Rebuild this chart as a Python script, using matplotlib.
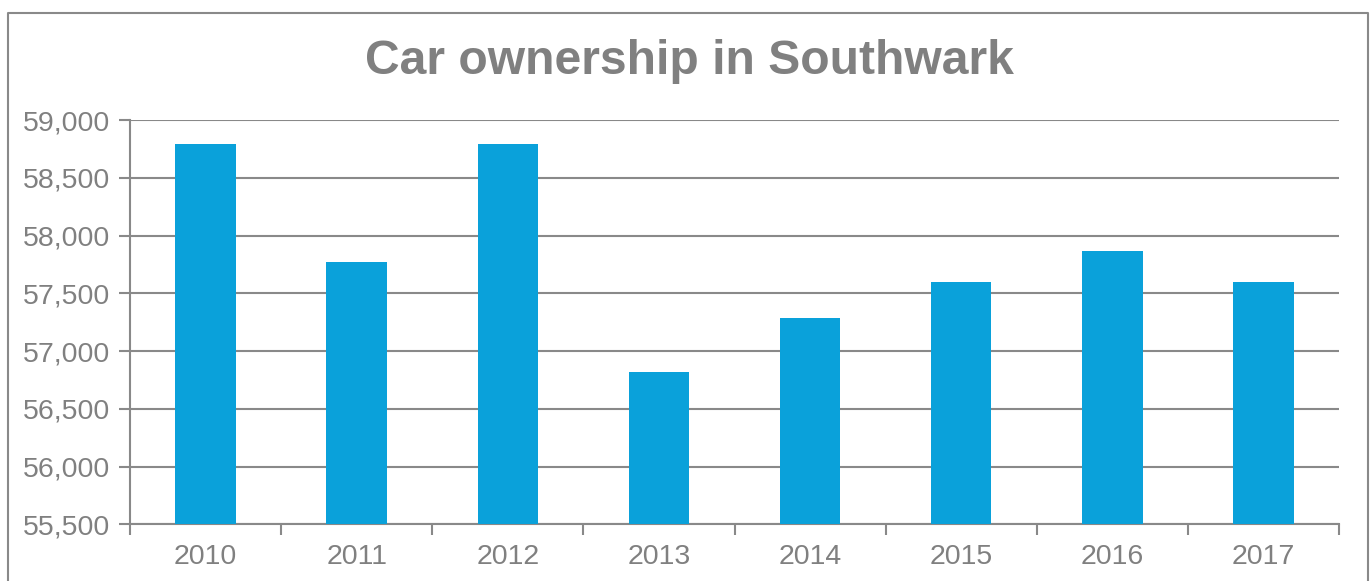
import matplotlib
matplotlib.use('Agg')
import matplotlib.pyplot as plt
from matplotlib.lines import Line2D
from matplotlib.ticker import FuncFormatter

years = ['2010', '2011', '2012', '2013', '2014', '2015', '2016', '2017']
cars = [58795, 57775, 58795, 56818, 57284, 57598, 57862, 57598]

grey = '#898989'
text_grey = '#808080'
bar_colour = '#0AA1DA'

plt.rcParams['font.family'] = ['Liberation Sans', 'DejaVu Sans']

fig = plt.figure(figsize=(13.7, 5.81), dpi=100)
ax = fig.add_axes([130 / 1370, 1 - 524.3 / 581, (1339 - 130) / 1370, (524.3 - 120) / 581])

x = range(len(years))
ax.bar(x, cars, width=0.4, color=bar_colour, zorder=3)

ax.set_ylim(55500, 59000)
ax.set_yticks(range(55500, 59001, 500))
ax.yaxis.set_major_formatter(FuncFormatter(lambda v, p: f'{int(v):,}'))
ax.set_xlim(-0.5, len(years) - 0.5)
ax.set_xticks(list(x))
ax.set_xticklabels(years)
# ticks sit between categories
ax.set_xticks([i - 0.5 for i in range(len(years) + 1)], minor=True)
ax.tick_params(axis='x', which='major', length=0, pad=14, labelsize=20.5, labelcolor=text_grey)
ax.tick_params(axis='x', which='minor', length=8, width=1.5, color=grey, direction='out')
ax.tick_params(axis='y', length=8, width=1.5, color=grey, direction='out', pad=6,
               labelsize=20.5, labelcolor=text_grey)

ax.grid(axis='y', color=grey, linewidth=1.5, zorder=0)
for side in ['top', 'right']:
    ax.spines[side].set_visible(False)
for side in ['left', 'bottom']:
    ax.spines[side].set_color(grey)
    ax.spines[side].set_linewidth(1.5)

fig.text(689 / 1370, 1 - 61 / 581, 'Car ownership in Southwark', ha='center', va='center',
         fontsize=34.6, fontweight='bold', color=text_grey)

# outer chart border (bottom edge is cut off)
x0, x1, ytop = 7.5 / 1370, 1367.5 / 1370, 1 - 12.5 / 581
fig.add_artist(Line2D([x0, x0, x1, x1], [0, ytop, ytop, 0], color=grey, linewidth=1.5,
                      transform=fig.transFigure))

fig.savefig('out.png', dpi=100, facecolor='white')
